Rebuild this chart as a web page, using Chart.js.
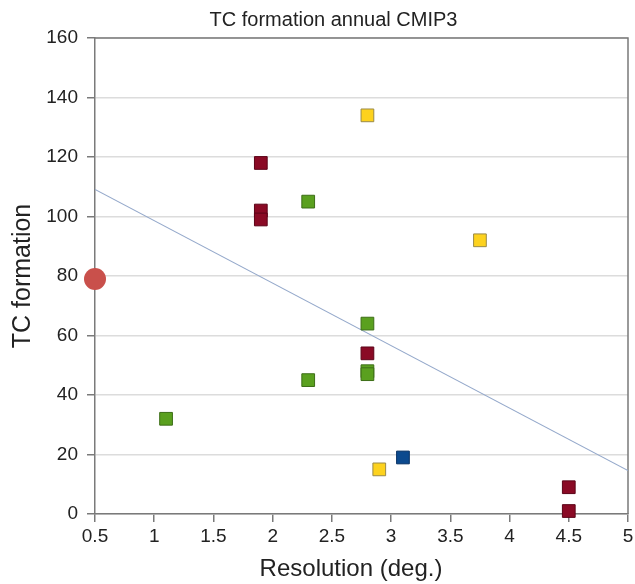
<!DOCTYPE html>
<html>
<head>
<meta charset="utf-8">
<title>TC formation annual CMIP3</title>
<script src="https://cdn.jsdelivr.net/npm/chart.js@4/dist/chart.umd.min.js"></script>
<style>
  html, body { margin: 0; padding: 0; background: #fff; }
  #wrap { width: 635px; height: 584px; }
</style>
</head>
<body>
<div id="wrap"><canvas id="tc"></canvas></div>
<script>
// model points, grouped by marker colour
var darkRedX = [1.9, 1.9, 1.9, 2.8, 4.5, 4.5];
var darkRedY = [118, 102, 99, 54, 9, 1];
var greenX = [1.1, 2.3, 2.3, 2.8, 2.8, 2.8];
var greenY = [32, 105, 45, 64, 48, 47];
var yellowX = [2.8, 2.9, 3.75];
var yellowY = [134, 15, 92];
var blueX = [3.1];
var blueY = [19];
// observed value
var obsX = [0.5];
var obsY = [79];
// linear fit end points
var fitX = [0.5, 5];
var fitY = [109.1, 14.6];

var FONT = "'Liberation Sans', Arial, Helvetica, sans-serif";
var AXIS = '#7a7a7a';

function pts(xs, ys) {
  var out = [];
  for (var i = 0; i < xs.length; i++) out.push({ x: xs[i], y: ys[i] });
  return out;
}

function squares(xs, ys, fill, edge) {
  return {
    data: pts(xs, ys),
    pointStyle: 'rect',
    pointRadius: 9,
    pointHoverRadius: 9,
    backgroundColor: fill,
    borderColor: edge,
    borderWidth: 1,
    clip: false
  };
}

// top/right frame, chart title and x axis caption
var frame = {
  id: 'frame',
  beforeDatasetsDraw: function (chart) {
    var a = chart.chartArea, ctx = chart.ctx;
    ctx.save();
    ctx.strokeStyle = AXIS;
    ctx.lineWidth = 1.5;
    ctx.beginPath();
    ctx.moveTo(a.left, a.top);
    ctx.lineTo(a.right, a.top);
    ctx.lineTo(a.right, a.bottom);
    ctx.stroke();
    ctx.restore();
  },
  afterDraw: function (chart) {
    var ctx = chart.ctx;
    ctx.save();
    ctx.fillStyle = '#222';
    ctx.textAlign = 'center';
    ctx.textBaseline = 'middle';
    ctx.font = '20px ' + FONT;
    ctx.fillText('TC formation annual CMIP3', 333.5, 20.5);
    ctx.font = '24px ' + FONT;
    ctx.fillText('Resolution (deg.)', 351, 569);
    ctx.restore();
  }
};

var config = {
  type: 'scatter',
  data: {
    datasets: [
      {
        type: 'line',
        data: pts(fitX, fitY),
        borderColor: '#95a9cb',
        borderWidth: 1.2,
        pointRadius: 0,
        fill: false,
        order: 5
      },
      squares(darkRedX, darkRedY, '#8a0a25', '#5c0418'),
      squares(greenX, greenY, '#5aa01f', '#3d6e17'),
      squares(yellowX, yellowY, '#fdd21e', '#9a8a48'),
      squares(blueX, blueY, '#0c4a8e', '#0a3466'),
      {
        data: pts(obsX, obsY),
        pointStyle: 'circle',
        pointRadius: 11,
        pointHoverRadius: 11,
        backgroundColor: '#c9504b',
        borderColor: '#c9504b',
        borderWidth: 0,
        clip: false
      }
    ]
  },
  options: {
    responsive: true,
    maintainAspectRatio: false,
    animation: false,
    events: [],
    layout: { autoPadding: false, padding: { left: 0, right: 7, top: 38, bottom: 0 } },
    plugins: {
      legend: { display: false },
      title: { display: false },
      tooltip: { enabled: false }
    },
    scales: {
      x: {
        type: 'linear',
        min: 0.5,
        max: 5,
        afterFit: function (s) { s.height = 70; s.paddingRight = 6; },
        ticks: {
          stepSize: 0.5,
          padding: 3,
          color: '#222',
          font: { family: FONT, size: 19 },
          callback: function (v) { return String(Number(v.toFixed(1))); }
        },
        grid: { drawOnChartArea: false, tickLength: 8, tickColor: AXIS, lineWidth: 1.5 },
        border: { color: AXIS, width: 1.5 }
      },
      y: {
        min: 0,
        max: 160,
        afterFit: function (s) { s.width = 95; },
        ticks: {
          stepSize: 20,
          padding: 9,
          color: '#222',
          font: { family: FONT, size: 19 }
        },
        grid: { color: '#dcdcdc', lineWidth: 1.5, tickLength: 8, tickColor: AXIS },
        border: { color: AXIS, width: 1.5 },
        title: {
          display: true,
          text: 'TC formation',
          color: '#222',
          font: { family: FONT, size: 25 },
          padding: { top: 8, bottom: 0 }
        }
      }
    }
  },
  plugins: [frame]
};

window.onload = function () {
  var ctx = document.getElementById('tc').getContext('2d');
  window.tcChart = new Chart(ctx, config);
};
</script>
</body>
</html>
